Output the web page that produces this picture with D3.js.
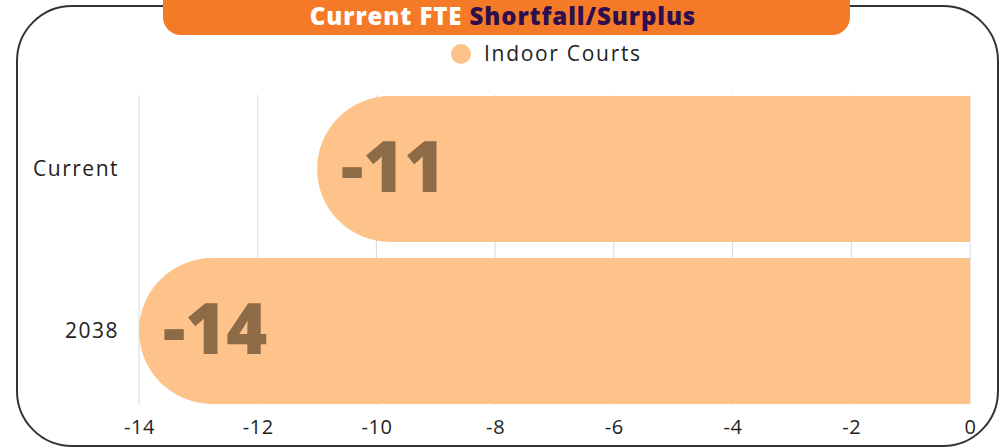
<!DOCTYPE html>
<html>
<head>
<meta charset="utf-8">
<script src="https://cdn.jsdelivr.net/npm/d3@7"></script>
<style>
  html, body { margin: 0; padding: 0; background: #fff; }
  svg { display: block; }
</style>
</head>
<body>
<svg id="chart" width="1003" height="448"></svg>
<script>
// Chart data
const categories = ["Current", "2038"];
const values = [-11, -14];
const tickValues = [-14, -12, -10, -8, -6, -4, -2, 0];
const seriesName = "Indoor Courts";
const titleParts = ["Current FTE ", "Shortfall/Surplus"];

const W = 1003, H = 448;
const svg = d3.select("#chart");
const font = "'Open Sans', sans-serif";
const barColor = "#FDC38A";

// Outer rounded frame
svg.append("rect")
  .attr("x", 17).attr("y", 6)
  .attr("width", 981).attr("height", 440)
  .attr("rx", 55).attr("ry", 55)
  .attr("fill", "none")
  .attr("stroke", "#333").attr("stroke-width", 2);

// Title pill
svg.append("rect")
  .attr("x", 163).attr("y", -20)
  .attr("width", 687).attr("height", 55)
  .attr("rx", 18).attr("ry", 18)
  .attr("fill", "#F47A28");

const title = svg.append("text")
  .attr("x", 503).attr("y", 25)
  .attr("text-anchor", "middle")
  .attr("font-family", font)
  .attr("font-size", 24)
  .attr("font-weight", 800)
  .attr("letter-spacing", 0.9);
title.append("tspan").attr("fill", "#ffffff").text(titleParts[0]);
title.append("tspan").attr("fill", "#2E0E4E").text(titleParts[1]);

// Legend
svg.append("circle").attr("cx", 461).attr("cy", 54).attr("r", 10).attr("fill", barColor);
svg.append("text")
  .attr("x", 484).attr("y", 61)
  .attr("font-family", font).attr("font-size", 21)
  .attr("letter-spacing", 1.7)
  .attr("fill", "#222").text(seriesName);

// Scales
const x = d3.scaleLinear().domain([-14, 0]).range([139, 970]);
const y = d3.scaleBand().domain(categories).range([88, 412]).paddingInner(0.1).paddingOuter(0.05);

// Gridlines
svg.append("g").selectAll("line")
  .data(tickValues)
  .join("line")
  .attr("x1", d => x(d)).attr("x2", d => x(d))
  .attr("y1", 95).attr("y2", 405)
  .attr("stroke", "#d9d9d9").attr("stroke-width", 1);

// X axis tick labels
const xAxis = d3.axisBottom(x).tickValues(tickValues).tickSize(0).tickPadding(10)
  .tickFormat(d => d < 0 ? "-" + Math.abs(d) : String(d));
const gx = svg.append("g").attr("transform", "translate(0,410)").call(xAxis);
gx.select(".domain").remove();
gx.selectAll("text")
  .attr("font-family", font).attr("font-size", 20)
  .attr("letter-spacing", 0.6).attr("fill", "#222");

// Y axis category labels
const yAxis = d3.axisLeft(y).tickSize(0).tickPadding(0);
const gy = svg.append("g").attr("transform", "translate(119,0)").call(yAxis);
gy.select(".domain").remove();
gy.selectAll("text")
  .attr("font-family", font).attr("font-size", 21)
  .attr("letter-spacing", 1.5).attr("fill", "#222");

// Bars with rounded left ends
function barPath(v, cat) {
  const x0 = x(v), x1 = x(0);
  const top = y(cat), h = y.bandwidth(), r = h / 2;
  return `M${x1},${top} L${x0 + r},${top} A${r},${r} 0 0 0 ${x0 + r},${top + h} L${x1},${top + h} Z`;
}
svg.append("g").selectAll("path")
  .data(values)
  .join("path")
  .attr("d", (d, i) => barPath(d, categories[i]))
  .attr("fill", barColor);

// Value labels
svg.append("g").selectAll("text")
  .data(values)
  .join("text")
  .attr("x", d => x(d) + 24)
  .attr("y", (d, i) => y(categories[i]) + y.bandwidth() / 2 + 23)
  .attr("font-family", font).attr("font-size", 70).attr("font-weight", 800)
  .attr("fill", "#8C6B46")
  .text(d => "-" + Math.abs(d));
</script>
</body>
</html>
